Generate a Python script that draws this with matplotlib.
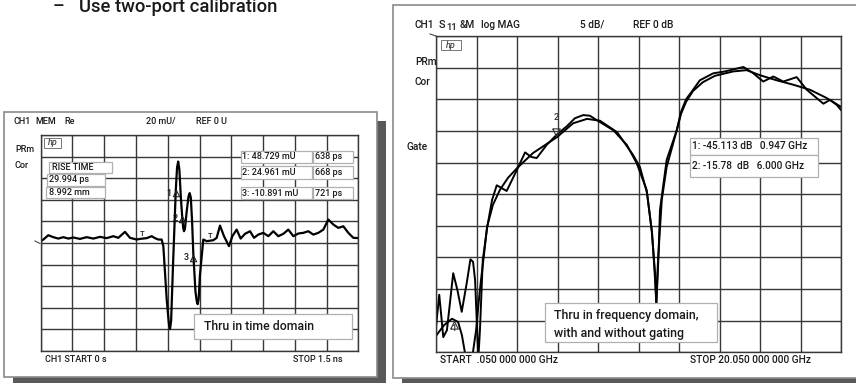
import matplotlib
matplotlib.use('Agg')
import matplotlib.pyplot as plt
from matplotlib.patches import Rectangle

FONT = ['Roboto', 'DejaVu Sans']
plt.rcParams['font.family'] = FONT
plt.rcParams['font.weight'] = 'medium'

# ---------------- data ----------------
# time-domain trace (ps, mU)
time_ps = [0, 12.4, 36.0, 59.7, 83.3, 106.9, 130.5, 154.1, 185.6, 217.1, 248.6, 280.1,
           311.6, 343.0, 366.6, 398.1, 421.7, 453.2, 469, 500.5, 524.1, 539.8, 555.5,
           571.3, 579.2, 595.0, 605, 610.7, 616, 625, 638, 644, 649.4, 655, 662, 668,
           673, 676.8, 681, 690, 698, 703.6, 709, 715, 721, 731, 737, 741.3, 746, 752,
           768, 783.9, 815.4, 831.1, 846.8, 865.7, 889.3,
           905.1, 925.5, 944.4, 964.9, 988.5, 1007.4, 1027.9, 1051.5, 1075.1, 1098.7,
           1122.3, 1145.9, 1169.5, 1193.1, 1216.8, 1240.4, 1264, 1287.6, 1311.2,
           1334.8, 1358.4, 1382, 1405.7, 1429.3, 1452.9, 1476.5, 1500]
time_mU = [1.7, 3.2, 7.2, 5.4, 4.1, 5.4, 4.1, 5.1, 3.8, 5.4, 4.1, 5.7,
           4.5, 6.3, 4.8, 10.3, 4.8, 3.2, 3.8, 4.5, 6.3, 4.5, 3.2,
           3.2, -2.9, -52, -74, -79.7, -72, -20, 48.7, 70, 75.4, 68, 42, 25.0,
           14, 10.9, 13, 30, 43, 46.2, 42, 20, -10.9, -45, -54, -56.7, -52, -30,
           3.2, 1.7, 2.6, 4.8, 16.1, 6.3, -2.9,
           6.3, 12.4, 4.1, 8.5, 10.9, 4.8, 7.8, 9.4, 6.3, 10.9,
           6.3, 8.5, 12.4, 6.3, 8.8, 9.4, 10.9, 7.8, 9.4,
           12.4, 21.7, 17.1, 14.0, 15.5, 9.4, 4.8, 4.5]
mk_time_ps = [638, 668, 721]
mk_time_mU = [48.729, 24.961, -10.891]

# frequency-domain traces (GHz, dB)
freq_gated = [0.05, 0.45, 0.84, 1.14, 1.33, 1.53, 1.83, 2.03, 2.17, 2.27, 2.42, 2.57,
              2.86, 3.21, 3.61, 4.05, 4.84, 6.02, 6.82, 7.51, 8.15, 8.99, 9.78, 10.12,
              10.47, 10.72, 10.87, 10.93, 11.01, 11.20, 11.44, 11.94, 12.15, 12.40, 12.74,
              13.23, 13.82, 14.73, 15.39, 16.05, 16.87, 17.69, 18.52, 19.34, 20.05]
db_gated = [-47.4, -45.7, -44.7, -45.2, -47.3, -51, -51, -46.5, -41.7, -38.6, -34.6, -30.2,
            -26.7, -24.3, -22.4, -20.9, -18.5, -16.0, -13.8, -13.1, -13.4, -15.2, -18.8, -20.7,
            -24.8, -31.1, -38.6, -42.3, -35.7, -25.9, -20.7, -14.9, -12.3, -10.4, -8.7,
            -7.3, -6.3, -5.6, -5.4, -6.2, -7.0, -7.7, -8.5, -9.8, -11.2]
freq_raw = [0.05, 0.21, 0.41, 0.59, 0.90, 1.11, 1.32, 1.57, 1.75, 1.88, 1.98, 2.14, 2.22,
            2.36, 2.58, 2.82, 3.05, 3.54, 4.04, 4.45, 4.74, 5.02, 5.52, 6.01, 6.50, 6.91,
            7.32, 7.65, 7.99, 8.81, 9.47, 9.96, 10.45, 10.70, 10.87, 10.93, 11.03, 11.11,
            11.44, 11.94, 12.15, 12.40, 12.70, 13.08, 13.74, 14.32, 15.23, 15.72, 16.21, 16.71,
            17.20, 17.86, 18.36, 18.77, 19.18, 19.51, 19.84, 20.05]
db_raw = [-46.0, -40.9, -47.6, -46.5, -37.5, -40.2, -43.6, -39.0, -35.3, -35.7, -38.6, -51, -46.5,
          -35.4, -30.2, -25.9, -23.6, -24.5, -21.2, -18.4, -19.1, -19.3, -17.2, -15.6, -14.3, -13.0,
          -12.5, -12.6, -13.3, -14.9, -17.2, -20.1, -24.3, -30.7, -37.5, -42.3, -35.4, -27.5,
          -19.6, -14.9, -12.0, -10.0, -8.7, -7.0, -5.9, -5.6, -4.9, -5.9, -7.2, -6.4,
          -7.2, -6.5, -8.5, -9.6, -10.7, -10.1, -10.9, -11.7]
mk_freq = [0.947, 6.000]
mk_db = [-45.113, -15.78]

# ---------------- figure ----------------
W, H = 856, 383
fig = plt.figure(figsize=(W / 100, H / 100), dpi=100)

bg = fig.add_axes([0, 0, 1, 1])
bg.set_xlim(0, W); bg.set_ylim(H, 0); bg.axis('off')

SHADOW = '#595959'
FRAME = '#8a8a8a'
GRID = '#383838'

# panel frames with drop shadows
bg.add_patch(Rectangle((13, 121), 373, 265, facecolor=SHADOW, edgecolor='none'))
bg.add_patch(Rectangle((4, 112), 373, 265, facecolor='white', edgecolor=FRAME, lw=1.2))
bg.add_patch(Rectangle((402, 14), 480, 373, facecolor=SHADOW, edgecolor='none'))
bg.add_patch(Rectangle((393, 5), 480, 373, facecolor='white', edgecolor=FRAME, lw=1.2))

# heading text
bg.text(53, 12, '\u2013', fontsize=13, color='#1a1a1a', va='baseline', ha='left')
bg.text(79, 12, 'Use two-port calibration', fontsize=13.3, color='#1a1a1a',
        va='baseline', ha='left')


def pax(x0, y0, x1, y1):
    return fig.add_axes([x0 / W, 1 - y1 / H, (x1 - x0) / W, (y1 - y0) / H])


def style(ax):
    ax.grid(True, color=GRID, lw=1.0)
    ax.tick_params(length=0, labelbottom=False, labelleft=False)
    for s in ax.spines.values():
        s.set_color(GRID); s.set_linewidth(1.0)
    ax.set_facecolor('white')
    ax.set_axisbelow(True)


# ---- left: time domain ----
axL = pax(40.7, 135, 358.3, 351)
axL.set_xlim(0, 1500); axL.set_ylim(-100, 100)
axL.set_xticks([i * 150 for i in range(11)]); axL.set_yticks([-100 + 20 * i for i in range(11)])
style(axL)
axL.plot(time_ps, time_mU, color='black', lw=1.6, solid_joinstyle='round')
tri_up = [(-0.5, -1), (0.5, -1), (0, 0), (-0.5, -1)]
axL.plot(mk_time_ps, mk_time_mU, ls='none', marker=tri_up, ms=9, mfc='none', mec='#222222', mew=0.8)
for i, (t_, v) in enumerate(zip(mk_time_ps, mk_time_mU)):
    axL.annotate(str(i + 1), (t_, v), xytext=(-5, -2), textcoords='offset points',
                 fontsize=6.5, ha='center', va='center', color='#1a1a1a')

# ---- right: frequency domain ----
axR = pax(436, 36, 841, 352.3)
axR.set_xlim(0.05, 20.05); axR.set_ylim(-50, 0)
axR.set_xticks([0.05 + 2 * i for i in range(11)]); axR.set_yticks([-50 + 5 * i for i in range(11)])
style(axR)
axR.plot(freq_raw, db_raw, color='black', lw=1.4, solid_joinstyle='round')
axR.plot(freq_gated, db_gated, color='black', lw=1.4, solid_joinstyle='round')
tri_down = [(-0.5, 1), (0.5, 1), (0, 0), (-0.5, 1)]
axR.plot([mk_freq[1]], [mk_db[1]], ls='none', marker=tri_down, ms=11, mfc='none', mec='#333333', mew=0.8)
axR.annotate('2', (mk_freq[1], mk_db[1]), xytext=(0, 13), textcoords='offset points',
             fontsize=6.5, ha='center', va='center', color='#333333')
axR.plot([mk_freq[0]], [mk_db[0]], ls='none', marker=tri_up, ms=11, mfc='none', mec='#333333', mew=0.8)
axR.annotate('1', (mk_freq[0], mk_db[0]), xytext=(0, -5), textcoords='offset points',
             fontsize=6.5, ha='center', va='center', color='#333333')

# ---------------- overlay (texts and boxes) ----------------
ov = fig.add_axes([0, 0, 1, 1])
ov.set_xlim(0, W); ov.set_ylim(H, 0); ov.axis('off')
ov.patch.set_alpha(0)

TXT = '#1a1a1a'
BOX = '#b0b0b0'
SMALL_L = 6.5
SMALL_R = 7.3


def t(x, y, s, size=SMALL_L, ha='left', **kw):
    ov.text(x, y, s, fontsize=size, ha=ha, va='center', color=TXT, **kw)


def box(x0, y0, x1, y1, lw=0.9):
    ov.add_patch(Rectangle((x0, y0), x1 - x0, y1 - y0, facecolor='white', edgecolor=BOX, lw=lw))


# left panel header
t(14, 121, 'CH1'); t(35, 121, 'MEM'); t(64, 121, 'Re')
t(146, 121, '20 mU/'); t(196, 121, 'REF 0 U')
t(15, 150, 'PRm'); t(15, 165, 'Cor')
# hp logo
ov.add_patch(Rectangle((44, 137.5), 17, 10, facecolor='white', edgecolor='#777777', lw=0.7))
ov.text(52.5, 142.5, 'hp', fontsize=6.5, style='italic', ha='center', va='center', color='#444444')
# ref pointer
ov.plot([35, 40], [241, 243.5], color='#444444', lw=0.8)

box(49, 162, 112, 173); t(52, 167.5, 'RISE TIME')
box(46.7, 173.5, 105, 186); t(49, 179.8, '29.994 ps')
box(46, 187, 105, 198); t(49, 192.5, '8.992 mm')

rows = [(151, 162.7, '1: 48.729 mU', '638 ps'),
        (166, 179.3, '2: 24.961 mU', '668 ps'),
        (186.7, 199.3, '3: -10.891 mU', '721 ps')]
for y0, y1, a, b in rows:
    box(240.7, y0, 311.7, y1); t(242, (y0 + y1) / 2, a)
    box(312.7, y0, 353.3, y1); t(315, (y0 + y1) / 2, b)

# gate markers
t(140, 234, 'T', 5.5); t(208, 236.5, 'T', 5.5)

box(194.3, 314.3, 351.7, 339); t(204, 327, 'Thru in time domain', 8.8)

t(45, 360, 'CH1 START 0 s')
t(343, 360, 'STOP 1.5 ns', ha='right')

# right panel header
t(415, 25, 'CH1', SMALL_R)
t(439, 25, 'S', SMALL_R + 0.5)
t(446, 27.5, '11', SMALL_R - 0.5)
t(460, 25, '&M', SMALL_R)
t(481, 25, 'log MAG', SMALL_R)
t(580, 25, '5 dB/', SMALL_R)
t(633, 25, 'REF 0 dB', SMALL_R)
t(415, 62, 'PRm', SMALL_R); t(415, 82, 'Cor', SMALL_R); t(407, 147, 'Gate', SMALL_R)
ov.add_patch(Rectangle((441, 40), 20, 10, facecolor='white', edgecolor='#777777', lw=0.7))
ov.text(451, 45, 'hp', fontsize=6.5, style='italic', ha='center', va='center', color='#444444')
ov.plot([430, 436], [34, 36], color='#444444', lw=0.8)

box(690, 137.7, 818.3, 155); t(692, 146.3, '1: -45.113 dB   0.947 GHz', SMALL_R)
box(690, 155, 818.3, 177.3); t(692, 166, '2: -15.78  dB   6.000 GHz', SMALL_R)

box(545, 303.3, 717.3, 342.3)
t(554, 316, 'Thru in frequency domain,', 8.9)
t(554, 334, 'with and without gating', 8.9)

t(440, 360, 'START  .050 000 000 GHz', SMALL_R)
t(690, 360, 'STOP 20.050 000 000 GHz', SMALL_R)

fig.savefig('out.png', dpi=100)
